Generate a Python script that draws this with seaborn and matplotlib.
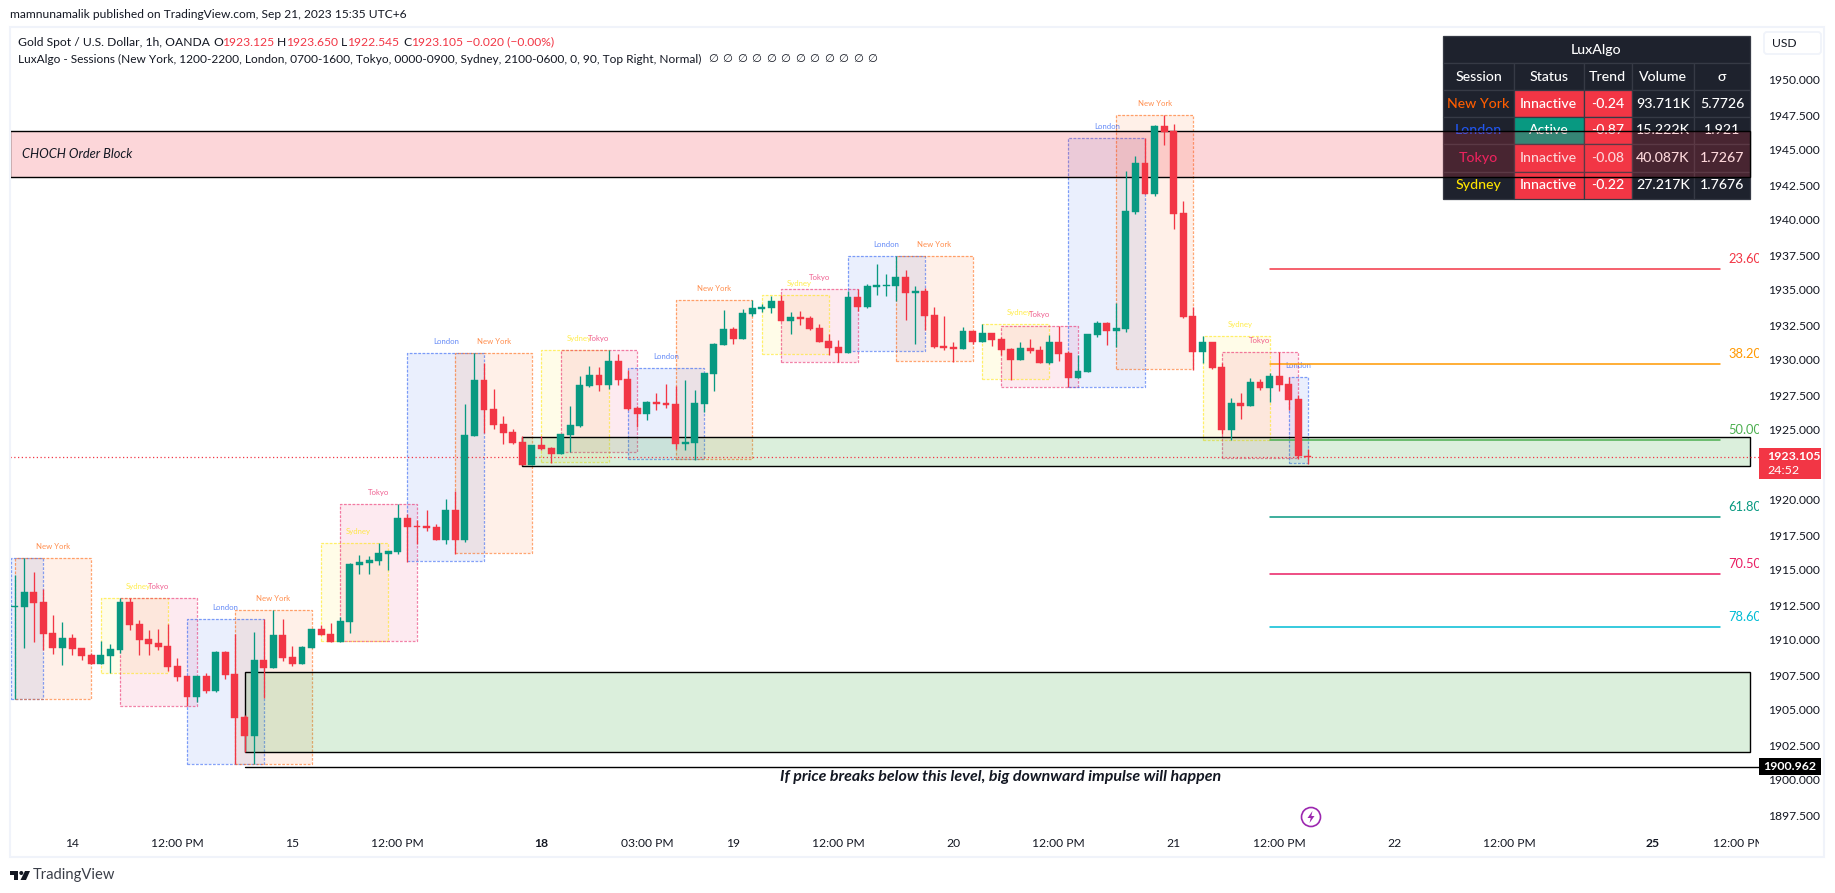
import numpy as np
import pandas as pd
import matplotlib
matplotlib.use("Agg")
import matplotlib.pyplot as plt
from matplotlib.patches import Rectangle, Circle, Polygon, FancyBboxPatch
import seaborn as sns

OPEN = [1912.38,1912.38,1913.40,1912.69,1910.50,1909.43,1910.12,1909.43,1908.93,1908.28,
1908.86,1909.28,1912.71,1911.14,1910.07,1909.78,1909.57,1908.14,1907.43,1905.93,
1907.43,1906.36,1909.14,1907.57,1904.50,1903.14,1908.57,1908.00,1910.36,1908.78,
1908.28,1909.43,1910.78,1910.43,1909.86,1911.29,1915.36,1915.50,1915.64,1916.14,
1916.28,1918.71,1918.14,1918.14,1918.07,1917.14,1919.28,1917.14,1924.57,1928.57,
1926.50,1925.43,1924.86,1924.14,1922.50,1923.93,1923.71,1923.29,1924.64,1925.29,
1928.14,1928.93,1928.21,1929.93,1928.64,1926.57,1926.14,1927.00,1926.93,1926.86,
1924.00,1924.07,1926.86,1929.00,1931.07,1932.21,1931.50,1933.29,1933.64,1933.71,
1934.21,1932.79,1933.07,1933.00,1932.29,1931.36,1930.93,1930.50,1934.50,1933.79,
1935.21,1935.29,1935.29,1935.93,1934.79,1934.93,1933.21,1931.00,1930.93,1930.79,
1932.08,1931.29,1931.93,1931.50,1930.79,1930.00,1930.86,1930.72,1929.79,1931.29,
1930.50,1928.72,1929.15,1931.79,1932.65,1932.08,1932.22,1940.58,1944.08,1941.86,
1946.72,1946.36,1940.50,1933.15,1930.58,1931.29,1929.50,1925.00,1926.93,1926.72,
1928.43,1928.00,1928.86,1928.29,1927.22,1923.125]
HIGH = [1914.64,1915.83,1914.86,1913.62,1911.78,1911.28,1910.43,1909.43,1909.05,1909.93,
1909.71,1912.97,1912.97,1911.43,1910.71,1910.78,1911.14,1908.71,1907.43,1907.43,
1907.64,1909.21,1909.21,1910.43,1904.64,1910.57,1911.50,1912.14,1911.50,1909.57,
1909.57,1910.78,1911.07,1911.21,1911.64,1915.50,1916.07,1916.00,1916.93,1916.36,
1919.71,1919.00,1918.57,1919.28,1918.28,1920.07,1920.64,1926.86,1930.48,1929.76,
1927.93,1926.00,1925.07,1924.57,1923.93,1924.57,1923.79,1924.71,1926.71,1928.86,
1929.57,1929.50,1930.71,1930.43,1929.29,1926.71,1927.07,1927.64,1928.29,1928.14,
1928.57,1927.86,1929.07,1931.21,1933.57,1932.36,1933.64,1934.29,1934.00,1934.57,
1934.64,1933.43,1933.50,1933.14,1932.57,1931.86,1931.43,1934.93,1935.07,1935.43,
1936.86,1936.14,1937.43,1936.43,1935.29,1935.14,1933.79,1933.14,1931.29,1932.36,
1932.08,1932.58,1931.93,1931.65,1930.86,1931.29,1931.50,1931.00,1931.79,1932.43,
1930.65,1930.36,1931.86,1932.79,1932.72,1934.08,1943.50,1944.58,1945.86,1946.79,
1947.50,1946.86,1941.36,1933.79,1931.72,1931.29,1929.79,1927.29,1927.65,1928.72,
1928.65,1929.08,1930.58,1928.79,1927.50,1923.65]
LOW = [1905.76,1909.45,1909.88,1909.28,1909.00,1908.21,1908.93,1908.57,1908.28,1908.28,
1907.67,1909.05,1910.71,1908.93,1908.93,1909.28,1907.78,1907.07,1905.28,1905.55,
1906.21,1906.28,1907.21,1901.12,1901.97,1901.12,1905.83,1908.00,1908.50,1908.14,
1908.28,1909.43,1910.36,1909.86,1909.86,1910.50,1914.71,1914.71,1915.36,1915.00,
1916.14,1915.57,1916.86,1917.78,1917.14,1916.86,1916.14,1917.00,1924.57,1924.76,
1925.07,1924.00,1924.00,1922.50,1922.50,1923.57,1922.64,1923.29,1923.43,1925.21,
1928.07,1927.79,1927.93,1928.21,1926.43,1925.19,1925.71,1926.43,1926.57,1923.64,
1923.57,1922.86,1926.29,1927.79,1931.07,1931.14,1931.50,1933.14,1933.43,1933.36,
1932.79,1931.86,1932.50,1932.14,1931.29,1930.36,1929.86,1930.50,1933.50,1933.71,
1934.64,1934.57,1934.21,1932.86,1931.14,1932.14,1930.86,1930.71,1929.86,1930.79,
1931.15,1931.29,1931.00,1930.36,1928.58,1930.00,1930.50,1929.79,1929.72,1929.93,
1928.05,1928.72,1929.15,1931.65,1931.08,1930.93,1932.00,1940.43,1941.86,1941.72,
1945.36,1939.36,1933.00,1929.29,1929.79,1929.36,1924.72,1924.29,1925.79,1926.72,
1927.86,1927.00,1927.79,1926.43,1922.93,1922.545]
CLOSE = [1912.45,1913.40,1912.67,1910.45,1909.43,1910.12,1909.36,1908.86,1908.28,1908.93,
1909.36,1912.71,1911.07,1910.00,1909.71,1909.50,1908.07,1907.36,1905.93,1907.43,
1906.36,1909.14,1907.50,1904.43,1903.14,1908.57,1908.00,1910.36,1908.71,1908.28,
1909.50,1910.78,1910.36,1909.86,1911.36,1915.43,1915.57,1915.71,1916.21,1916.36,
1918.71,1918.07,1918.07,1918.00,1917.14,1919.28,1917.14,1924.64,1928.57,1926.43,
1925.36,1924.79,1924.07,1922.50,1923.93,1923.64,1923.29,1924.71,1925.36,1928.21,
1928.93,1928.21,1929.93,1928.57,1926.50,1926.14,1927.00,1926.86,1926.79,1924.00,
1924.14,1926.93,1929.07,1931.14,1932.21,1931.50,1933.36,1933.71,1933.79,1934.21,
1932.79,1933.07,1932.93,1932.21,1931.29,1930.86,1930.50,1934.50,1933.79,1935.29,
1935.36,1935.36,1935.93,1934.79,1934.93,1933.14,1930.93,1930.86,1930.79,1932.08,
1931.29,1931.93,1931.43,1930.72,1930.00,1930.86,1930.65,1929.79,1931.29,1930.43,
1928.72,1929.22,1931.86,1932.65,1932.08,1932.29,1940.65,1944.08,1941.86,1946.72,
1946.29,1940.43,1933.08,1930.58,1931.29,1929.43,1925.00,1926.93,1926.72,1928.43,
1928.00,1928.86,1928.22,1927.15,1923.13,1923.105]

SESSION_NAME = ["London","New York","Sydney","Tokyo","London","New York","Sydney","Tokyo","London","New York",
"Sydney","Tokyo","London","New York","Sydney","Tokyo","London","New York",
"Sydney","Tokyo","London","New York","Sydney","Tokyo","London"]
SESSION_START = [0.6,1,10,12,19,24,33,35,42,47,56,58,65,70,79,81,88,93,102,104,111,116,125,127,134]
SESSION_END = [4,9,17,20,27,32,40,43,50,55,63,66,73,78,86,89,96,101,109,112,119,124,132,135,136]
SESSION_TOP = [1915.83,1915.83,1912.97,1912.97,1911.50,1912.14,1916.90,1919.69,1930.48,1930.48,
1930.71,1930.71,1929.40,1934.26,1934.62,1935.05,1937.40,1937.40,
1932.58,1932.43,1945.84,1947.48,1931.72,1930.58,1928.79]
SESSION_BOTTOM = [1905.76,1905.76,1907.67,1905.31,1901.12,1901.12,1909.95,1909.95,1915.62,1916.19,
1922.69,1923.40,1922.90,1922.90,1930.40,1929.88,1930.62,1929.90,
1928.62,1928.05,1928.05,1929.34,1924.31,1922.98,1922.62]
SESSION_COLOR = {"New York":"#ff5d00","London":"#2157f3","Tokyo":"#e91e63","Sydney":"#ffe500"}

FIB_LABEL = ["23.60%","38.20%","50.00%","61.80%","70.50%","78.60%"]
FIB_PRICE = [1936.48,1929.69,1924.26,1918.76,1914.69,1910.90]
FIB_COLOR = ["#f23645","#ff9800","#4caf50","#089981","#e91e63","#00bcd4"]

ZONE_BOTTOM = [1901.97,1922.40,1943.05]
ZONE_TOP = [1907.69,1924.53,1946.33]
ZONE_START = [25,54,0.5]
ZONE_END = [182.1,182.1,182.1]
ZONE_COLOR = ["#4caf50","#4caf50","#f23645"]

TICK_POS = [7,18,30,41,56,67,76,87,99,110,122,133,145,157,172,181]
TICK_LAB = ["14","12:00 PM","15","12:00 PM","18","03:00 PM","19","12:00 PM","20","12:00 PM",
            "21","12:00 PM","22","12:00 PM","25","12:00 PM"]
PRICE_TICKS = [1897.5+2.5*i for i in range(22)]
LAST_PRICE = 1923.105
LINE_PRICE = 1900.962

TBL_HEAD = ["Session","Status","Trend","Volume","σ"]
TBL_SESSION = ["New York","London","Tokyo","Sydney"]
TBL_STATUS = ["Innactive","Active","Innactive","Innactive"]
TBL_TREND = ["-0.24","-0.87","-0.08","-0.22"]
TBL_VOLUME = ["93.711K","15.222K","40.087K","27.217K"]
TBL_SIGMA = ["5.7726","1.921","1.7267","1.7676"]

sns.set_theme(style="white")
FONT = ["Lato","DejaVu Sans"]
plt.rcParams["font.family"] = FONT
INK = "#131722"; UP = "#089981"; DOWN = "#f23645"
W, H = 1835, 893
fig = plt.figure(figsize=(W/100, H/100), dpi=100, facecolor="white")
L, R, T, B = 10, 1759, 26.7, 857
XMIN, XMAX = 0.52, 183.09
ax = fig.add_axes([L/W, 1-B/H, (R-L)/W, (B-T)/H], zorder=1)
ov = fig.add_axes([0,0,1,1], zorder=10)
ov.set_xlim(0,W); ov.set_ylim(H,0); ov.axis("off"); ov.patch.set_alpha(0)
px = ov.transData

ax.set_axisbelow(True)
ax.grid(False)
for s in ax.spines.values():
    s.set_visible(False)

# table, beneath the zones
colx = [1443.3,1513.7,1583.7,1631.7,1694.3,1749.7]
rowy = [36,63.3,90,117,144,171.5,198.7]
BG="#1e222d"; GR="#363a45"
def cell(c0,c1,r0,r1,fc,txt,col="white"):
    ax.add_patch(Rectangle((c0,r0),c1-c0,r1-r0,transform=px,fc=fc,ec=GR,lw=0.9,zorder=1))
    ax.text((c0+c1)/2,(r0+r1)/2,txt,transform=px,ha="center",va="center",color=col,
            fontsize=10.2,zorder=1.1,fontweight=500)
cell(colx[0],colx[5],rowy[0],rowy[1],BG,"LuxAlgo")
for j,h in enumerate(TBL_HEAD):
    cell(colx[j],colx[j+1],rowy[1],rowy[2],BG,h)
for i,name in enumerate(TBL_SESSION):
    r0,r1=rowy[i+2],rowy[i+3]
    cell(colx[0],colx[1],r0,r1,BG,name,SESSION_COLOR[name])
    cell(colx[1],colx[2],r0,r1,UP if TBL_STATUS[i]=="Active" else DOWN,TBL_STATUS[i])
    cell(colx[2],colx[3],r0,r1,DOWN,TBL_TREND[i])
    cell(colx[3],colx[4],r0,r1,BG,TBL_VOLUME[i])
    cell(colx[4],colx[5],r0,r1,BG,TBL_SIGMA[i])

# sessions
for n,s,e,t_,b in zip(SESSION_NAME,SESSION_START,SESSION_END,SESSION_TOP,SESSION_BOTTOM):
    c=SESSION_COLOR[n]
    ax.add_patch(Rectangle((s,b),e-s,t_-b,fc=c,alpha=0.09,ec="none",zorder=1.5))
    ax.add_patch(Rectangle((s,b),e-s,t_-b,fc="none",ec=matplotlib.colors.to_rgba(c,0.55),
                           lw=0.9,ls=(0,(2.2,1.2)),zorder=1.6))
    if s>=1:
        mid=(s+e)/2+(0.4 if n=="Sydney" else 0)
        ax.text(mid,t_+0.83,n,color=c,alpha=0.7,fontsize=5.6,ha="center",va="center",zorder=1.7)

# zones
for b,t_,s,e,c in zip(ZONE_BOTTOM,ZONE_TOP,ZONE_START,ZONE_END,ZONE_COLOR):
    ax.add_patch(Rectangle((s,b),e-s,t_-b,fc=matplotlib.colors.to_rgba(c,0.2),ec="black",lw=1.0,zorder=2))

# fib lines
for lab,p,c in zip(FIB_LABEL,FIB_PRICE,FIB_COLOR):
    d=pd.DataFrame({"x":[132,179.05],"y":[p,p]})
    sns.lineplot(data=d,x="x",y="y",color=c,lw=1.1,ax=ax,zorder=2.5,legend=False,estimator=None)
    ax.text(179.9,p+0.757,lab,color=c,fontsize=9.3,ha="left",va="center",clip_on=True,zorder=2.5)

# price lines
d=pd.DataFrame({"x":[XMIN,XMAX],"y":[LAST_PRICE,LAST_PRICE]})
sns.lineplot(data=d,x="x",y="y",color=DOWN,lw=0.9,ls=(0,(1,2)),ax=ax,zorder=2.6,legend=False,estimator=None)
d=pd.DataFrame({"x":[25,XMAX],"y":[LINE_PRICE,LINE_PRICE]})
sns.lineplot(data=d,x="x",y="y",color="black",lw=1.0,ax=ax,zorder=2.6,legend=False,estimator=None)

# candles
idx=np.arange(1,len(OPEN)+1)
o,h,l,c=map(np.array,(OPEN,HIGH,LOW,CLOSE))
cols=np.where(c>=o,UP,DOWN)
ax.vlines(idx,l,h,colors=cols,lw=0.95,zorder=3)
ax.bar(idx,np.abs(c-o),bottom=np.minimum(o,c),width=0.72,color=cols,edgecolor=cols,linewidth=0.3,zorder=3.1)

ax.set_xlim(XMIN,XMAX)
ax.set_ylim(1950-(B-80)/14, 1950+(80-T)/14)
ax.set_xlabel(""); ax.set_ylabel("")
ax.yaxis.tick_right()
ax.set_yticks(PRICE_TICKS)
ax.set_yticklabels([f"{v:.3f}" for v in PRICE_TICKS])
ax.tick_params(axis="y",length=0,pad=6.3,labelsize=8.7,labelcolor=INK)
ax.set_xticks(TICK_POS)
ax.set_xticklabels(TICK_LAB)
ax.tick_params(axis="x",length=0,pad=-13.4,labelsize=8.7,labelcolor=INK)
for lb in ax.get_xticklabels():
    lb.set_clip_on(True); lb.set_clip_box(ax.bbox)
    if lb.get_text() in ("18","25"):
        lb.set_fontweight("bold")

# chrome
ov.add_patch(Rectangle((10,26.7),1814,830.3,fc="none",ec="#f0f3fa",lw=1.5))
def t(x,y,s,col=INK,fs=8.7,**kw):
    ov.text(x,y,s,color=col,fontsize=fs,va="center",**kw)
t(10,15,"mamnunamalik published on TradingView.com, Sep 21, 2023 15:35 UTC+6",fs=8.65)
t(17.7,42,"Gold Spot / U.S. Dollar, 1h, OANDA")
for x,s,col in [(213,"O",INK),(222,"1923.125",DOWN),(276.7,"H",INK),(286,"1923.650",DOWN),
                (340.7,"L",INK),(347,"1922.545",DOWN),(403,"C",INK),(411,"1923.105",DOWN),
                (466,"−0.020 (−0.00%)",DOWN)]:
    t(x,42,s,col)
t(17.7,59,"LuxAlgo - Sessions (New York, 1200-2200, London, 0700-1600, Tokyo, 0000-0900, Sydney, 2100-0600, 0, 90, Top Right, Normal)",fs=8.55)
for k in range(12):
    t(708+k*14.5,59,"∅",fs=8.2)
t(22,154,"CHOCH Order Block",fs=9.3,style="italic")
ov.text(1001,777.5,"If price breaks below this level, big downward impulse will happen",color=INK,
        fontsize=11.5,style="italic",weight="bold",ha="center",va="center")

# last price & line labels
ov.add_patch(Rectangle((1759,448.3),62,30.7,fc=DOWN,ec="none"))
t(1767.3,456.7,"1923.105","white",8.9,weight="bold")
t(1767.3,470.5,"24:52","white",8.9)
ov.add_patch(Rectangle((1759,758.3),62,16.7,fc="black",ec="none"))
ov.text(1790,766.7,"1900.962",color="white",fontsize=8.9,weight="bold",ha="center",va="center")

# currency button
ov.add_patch(FancyBboxPatch((1764,32),57,22,boxstyle="round,pad=0,rounding_size=3",fc="white",ec="#f0f3fa",lw=1.3))
t(1772,43.5,"USD",fs=8.7)

# event icon
ov.add_patch(Circle((1311,817),9.5,fc="white",ec="#9c27b0",lw=1.2))
ov.add_patch(Polygon([(1312.5,811),(1307.5,818),(1310.7,818),(1309.5,823),(1314.5,816),(1311.3,816)],fc="#9c27b0",ec="none"))

# logo
ov.add_patch(Polygon([(10,871),(18,871),(18,880),(14,880),(14,875),(10,875)],fc=INK,ec="none"))
ov.add_patch(Circle((21.3,873),2,fc=INK,ec="none"))
ov.add_patch(Polygon([(25,871),(30,871),(26,880),(20.5,880)],fc=INK,ec="none"))
t(33,875.5,"TradingView",col="#3a3e48",fs=10.6)

fig.savefig("out.png",dpi=100,facecolor="white")
